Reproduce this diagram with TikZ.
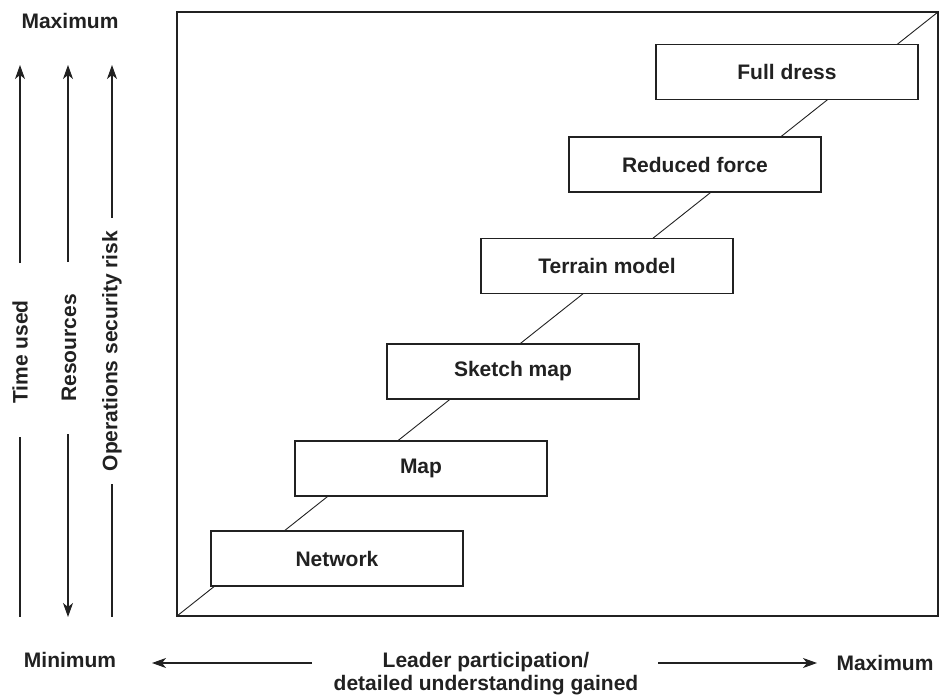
\documentclass[tikz,border=0pt]{standalone}
\usepackage{fontspec}
\setmainfont{Liberation Sans}
\usetikzlibrary{arrows.meta}
\definecolor{ink}{gray}{0.13}

\begin{document}
\begin{tikzpicture}[x=1pt,y=-1pt,
  lbl/.style={font=\fontsize{21}{23}\selectfont\bfseries,text=ink},
  stage/.style={lbl,draw=ink,line width=1.1pt,fill=white,
                minimum width=252pt,minimum height=55pt,inner sep=0pt},
  ax/.style={draw=ink,line width=1.1pt},
  tip/.style={-{Stealth[length=14pt,width=10pt,inset=4pt]}}]
%  \draw[gray] (0,0) rectangle (945,695);
  \path[use as bounding box] (0,0) rectangle (945,695);
  % frame and diagonal
  \coordinate (fsw) at (177,616);
  \coordinate (fne) at (938,12);
  \draw[ax,line width=1.4pt] (fsw) rectangle (fne);
  \draw[ax,line width=0.9pt] (fsw) -- (fne);
  % stages
  \node[stage] (network) at (337,558.5) {Network};
  \node[stage] (map)     at (421,468.5) {Map};
  \node[stage] (sketch)  at (513,371.5) {Sketch map};
  \node[stage] (terrain) at (607,266)   {Terrain model};
  \node[stage] (reduced) at (695,164.5) {Reduced force};
  \node[stage,minimum width=262pt] (full) at (787,72) {Full dress};
  % left scale
  \node[lbl] (maxl) at (70,21)  {Maximum};
  \node[lbl] (minl) at (70,660) {Minimum};
  \node[lbl,rotate=90] (time) at (20,352)  {Time used};
  \node[lbl,rotate=90] (res)  at (69,348)  {Resources};
  \node[lbl,rotate=90] (ops)  at (112,351) {Operations security risk};
  \coordinate (time top) at (20,65);  \coordinate (time bot) at (20,617);
  \coordinate (res top)  at (68,65);  \coordinate (res bot)  at (68,617);
  \coordinate (ops top)  at (112,65); \coordinate (ops bot)  at (112,617);
  \draw[ax,tip] (20,263) -- (time top);
  \draw[ax]     (20,437) -- (time bot);
  \draw[ax,tip] (68,262) -- (res top);
  \draw[ax,tip] (68,434) -- (res bot);
  \draw[ax,tip] (112,218) -- (ops top);
  \draw[ax]     (112,484) -- (ops bot);
  % bottom scale
  \node[lbl,align=center] (lead) at (486,674) {Leader participation/\\detailed understanding gained};
  \node[lbl] (maxb) at (885,663) {Maximum};
  \coordinate (lead w) at (152,663);
  \coordinate (lead e) at (817,663);
  \draw[ax,tip] (312,663) -- (lead w);
  \draw[ax,tip] (658,663) -- (lead e);
\end{tikzpicture}
\end{document}
